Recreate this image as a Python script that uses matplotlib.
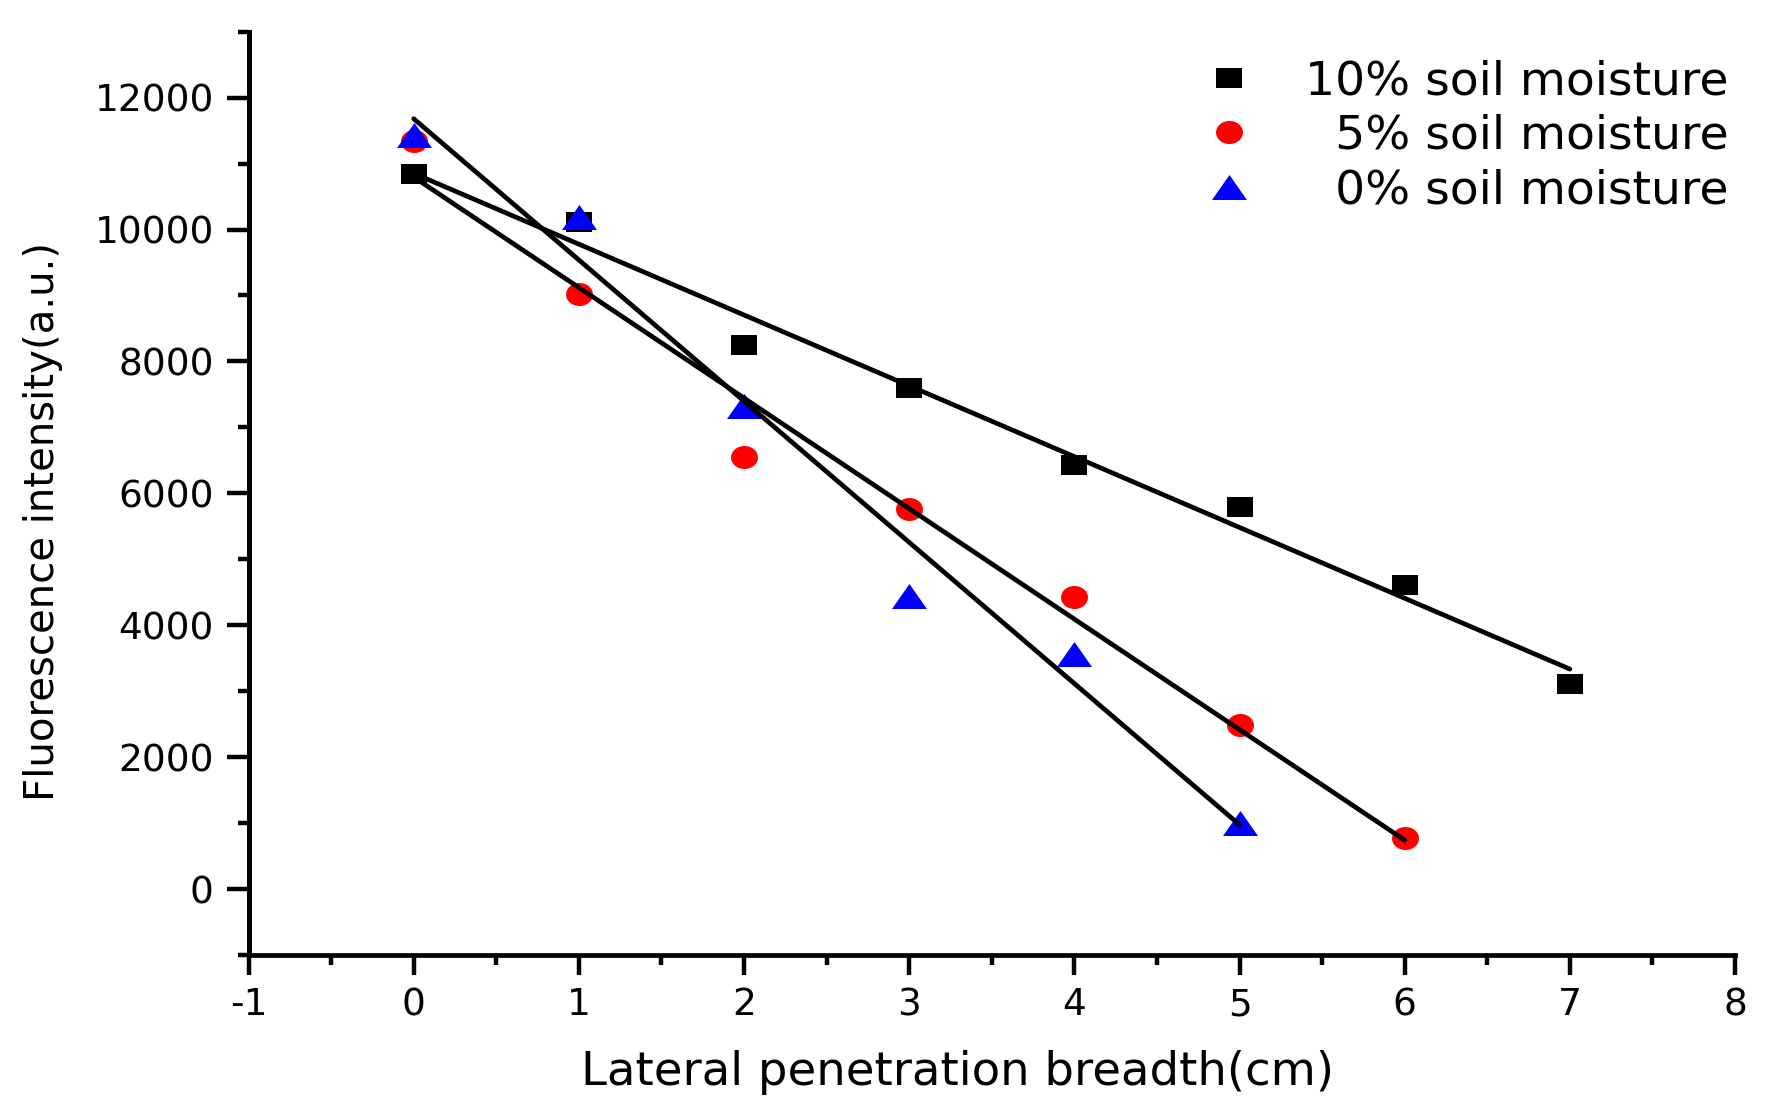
import numpy as np
import matplotlib
matplotlib.use("Agg")
import matplotlib.pyplot as plt
from matplotlib.ticker import MultipleLocator

# ---- data ----
x10 = [0, 1, 2, 3, 4, 5, 6, 7]
y10 = [10845, 10117, 8243, 7603, 6429, 5791, 4616, 3106]
x5 = [0, 1, 2, 3, 4, 5, 6]
y5 = [11350, 9025, 6553, 5764, 4429, 2484, 778]
x0 = [0, 1, 2, 3, 4, 5]
y0 = [11440, 10190, 7330, 4436, 3560, 1009]
labels = ["10% soil moisture", "\u20075% soil moisture", "\u20070% soil moisture"]
colors = ["#000000", "#FF0000", "#0000FF"]

plt.rcParams['font.family'] = ['DejaVu Sans']
plt.rcParams['axes.unicode_minus'] = False

# wide marker shapes (reference markers are slightly wider than tall)
sq_marker = [(-1.2, -1), (1.2, -1), (1.2, 1), (-1.2, 1), (-1.2, -1)]
t = np.linspace(0, 2 * np.pi, 61)
circ_marker = list(zip(1.17 * np.cos(t), np.sin(t)))
tri_marker = [(0, 0.714), (-1, -0.714), (1, -0.714), (0, 0.714)]

fig = plt.figure(figsize=(17.75, 11.16), dpi=100)
ax = fig.add_axes([0.1400, 0.14427, 0.8375, 0.82733])

series = [
    (x10, y10, sq_marker, 18, colors[0], labels[0]),
    (x5, y5, circ_marker, 19.4, colors[1], labels[1]),
    (x0, y0, tri_marker, 25.2, colors[2], labels[2]),
]
for xs, ys, mk, ms, c, lab in series:
    ax.plot(xs, ys, linestyle='none', marker=mk, markersize=ms,
            color=c, markeredgewidth=0, label=lab, zorder=2)
    k, b = np.polyfit(xs, ys, 1)
    xf = np.array([min(xs), max(xs)])
    ax.plot(xf, k * xf + b, color='black', linewidth=3.4, zorder=3,
            solid_capstyle='round')

ax.set_xlim(-1, 8)
ax.set_ylim(-1000, 13000)
ax.xaxis.set_major_locator(MultipleLocator(1))
ax.xaxis.set_minor_locator(MultipleLocator(0.5))
ax.yaxis.set_major_locator(MultipleLocator(2000))
ax.yaxis.set_minor_locator(MultipleLocator(1000))

for s in ['top', 'right']:
    ax.spines[s].set_visible(False)
ax.spines['bottom'].set_linewidth(3.4)
ax.spines['left'].set_linewidth(3.6)

ax.tick_params(axis='x', which='major', length=14.4, width=3.2, pad=9,
               labelsize=27, direction='out')
ax.tick_params(axis='x', which='minor', length=7.2, width=3.2, direction='out')
ax.tick_params(axis='y', which='major', length=16, width=3.2, pad=9,
               labelsize=27, direction='out')
ax.tick_params(axis='y', which='minor', length=8, width=3.2, direction='out')

ax.set_xlabel("Lateral penetration breadth(cm)", fontsize=33.5)
ax.set_ylabel("Fluorescence intensity(a.u.)", fontsize=29)
ax.xaxis.set_label_coords(0.477, -0.1032)
ax.yaxis.set_label_coords(-0.1251, 0.4695)

leg = ax.legend(loc='upper right', bbox_to_anchor=(0.974, 0.947),
                bbox_transform=fig.transFigure, frameon=False, fontsize=34,
                borderpad=0, borderaxespad=0, handlelength=1.0,
                handletextpad=1.12, labelspacing=0.206, numpoints=1)

fig.savefig("out.png", dpi=100)
